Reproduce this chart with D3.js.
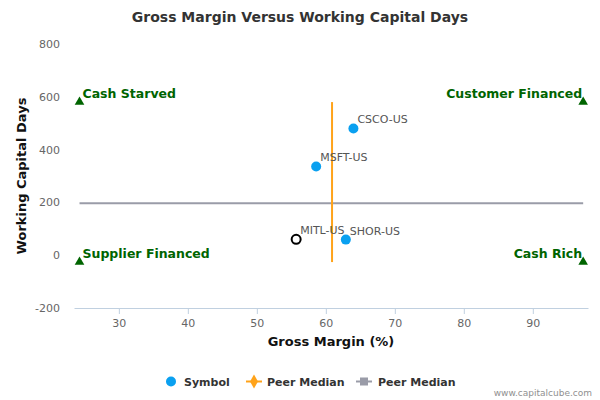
<!DOCTYPE html>
<html>
<head>
<meta charset="utf-8">
<script src="https://cdn.jsdelivr.net/npm/d3@7"></script>
<style>
  body { margin: 0; background: #fff; }
  text { font-family: "DejaVu Sans", sans-serif; }
</style>
</head>
<body>
<div class="chart"></div>
<script>
// company points
var symbols = ["CSCO-US", "MSFT-US", "SHOR-US", "MITL-US"];
var grossMargin = [64.0, 58.6, 62.9, 55.7];
var wcDays = [480, 336, 59, 60];
var isSelf = [false, false, false, true];

// peer medians
var medianMargin = 60.9;
var medianDays = 197;

// quadrant corners
var quadX = [24.3, 97.3];
var quadY = [-26, 580];
var quadLabels = ["Cash Starved", "Customer Financed", "Supplier Financed", "Cash Rich"];

var xTicks = [30, 40, 50, 60, 70, 80, 90];
var yTicks = [-200, 0, 200, 400, 600, 800];
var xExtent = [23.5, 98];
var yExtent = [-200, 800];

var chart_width = 600, chart_height = 400;
var plotLeft = 74, plotRight = 588, plotTop = 44, plotBottom = 308;

var svg = d3.select('.chart')
  .append('svg')
  .attr('width', chart_width)
  .attr('height', chart_height);

var x = d3.scaleLinear().domain(xExtent).range([plotLeft, plotRight]);
var y = d3.scaleLinear().domain(yExtent).range([plotBottom, plotTop]);

// title
svg.append('text')
  .attr('x', 300).attr('y', 22)
  .attr('text-anchor', 'middle')
  .attr('font-size', '14px')
  .attr('font-weight', 'bold')
  .attr('fill', '#333')
  .text('Gross Margin Versus Working Capital Days');

// x axis
var xAxis = svg.append('g')
  .attr('transform', 'translate(0,' + plotBottom + ')')
  .call(d3.axisBottom(x).tickValues(xTicks).tickSize(6).tickPadding(5).tickSizeOuter(0));
xAxis.select('.domain').attr('stroke', '#C0D0E0');
xAxis.selectAll('.tick line').attr('stroke', '#C0D0E0');
xAxis.selectAll('.tick text').attr('fill', '#666').attr('font-size', '11px')
  .attr('font-family', '"DejaVu Sans", sans-serif');

// y axis (labels only, plain hyphen for negatives)
var yAxis = svg.append('g')
  .attr('transform', 'translate(' + (plotLeft - 8) + ',0)')
  .call(d3.axisLeft(y).tickValues(yTicks).tickSize(0).tickPadding(6)
    .tickFormat(function (d) { return String(d); }));
yAxis.select('.domain').remove();
yAxis.selectAll('.tick text').attr('fill', '#666').attr('font-size', '11px')
  .attr('font-family', '"DejaVu Sans", sans-serif');

// axis titles
svg.append('text')
  .attr('x', (plotLeft + plotRight) / 2).attr('y', 346)
  .attr('text-anchor', 'middle')
  .attr('font-size', '13px').attr('font-weight', 'bold').attr('fill', '#111')
  .text('Gross Margin (%)');

svg.append('text')
  .attr('transform', 'translate(26,' + ((plotTop + plotBottom) / 2) + ') rotate(-90)')
  .attr('text-anchor', 'middle')
  .attr('font-size', '13px').attr('font-weight', 'bold').attr('fill', '#111')
  .text('Working Capital Days');

// peer median lines
svg.append('line')
  .attr('x1', x(quadX[0])).attr('x2', x(quadX[1]))
  .attr('y1', y(medianDays)).attr('y2', y(medianDays))
  .attr('stroke', '#9a9ca8').attr('stroke-width', 2);

svg.append('line')
  .attr('x1', x(medianMargin)).attr('x2', x(medianMargin))
  .attr('y1', y(quadY[1])).attr('y2', y(quadY[0]))
  .attr('stroke', '#ffa31a').attr('stroke-width', 2);

// quadrant markers and labels
var corners = [
  {x: quadX[0], y: quadY[1], label: quadLabels[0], anchor: 'start'},
  {x: quadX[1], y: quadY[1], label: quadLabels[1], anchor: 'end'},
  {x: quadX[0], y: quadY[0], label: quadLabels[2], anchor: 'start'},
  {x: quadX[1], y: quadY[0], label: quadLabels[3], anchor: 'end'}
];
var tri = d3.symbol().type(d3.symbolTriangle).size(40);

svg.selectAll('.corner')
  .data(corners)
  .enter()
  .append('path')
  .attr('d', tri)
  .attr('transform', function (d) { return 'translate(' + x(d.x) + ',' + y(d.y) + ')'; })
  .attr('fill', '#006400');

svg.selectAll('.cornerLabel')
  .data(corners)
  .enter()
  .append('text')
  .attr('x', function (d) { return d.anchor == 'start' ? x(d.x) + 3 : x(d.x) - 1; })
  .attr('y', function (d) { return y(d.y) - 4; })
  .attr('text-anchor', function (d) { return d.anchor; })
  .attr('font-size', '12.5px').attr('font-weight', 'bold').attr('fill', '#006400')
  .text(function (d) { return d.label; });

// points
var pts = symbols.map(function (s, i) {
  return {name: s, x: grossMargin[i], y: wcDays[i], self: isSelf[i]};
});

svg.selectAll('.pt')
  .data(pts)
  .enter()
  .append('circle')
  .attr('cx', function (d) { return x(d.x); })
  .attr('cy', function (d) { return y(d.y); })
  .attr('r', function (d) { return d.self ? 4.5 : 5; })
  .attr('fill', function (d) { return d.self ? '#fff' : '#0aa0f0'; })
  .attr('stroke', function (d) { return d.self ? '#000' : 'none'; })
  .attr('stroke-width', 2);

svg.selectAll('.ptLabel')
  .data(pts)
  .enter()
  .append('text')
  .attr('x', function (d) { return x(d.x) + 4; })
  .attr('y', function (d) { return y(d.y) - 5; })
  .attr('font-size', '11px').attr('fill', '#555')
  .text(function (d) { return d.name; });

// legend
var lg = svg.append('g').attr('font-size', '11px').attr('font-weight', 'bold').attr('fill', '#333');
lg.append('circle').attr('cx', 171).attr('cy', 381.5).attr('r', 5).attr('fill', '#0aa0f0');
lg.append('text').attr('x', 184).attr('y', 385.5).text('Symbol');

lg.append('line').attr('x1', 246).attr('x2', 262).attr('y1', 381.5).attr('y2', 381.5)
  .attr('stroke', '#ffa31a').attr('stroke-width', 2);
lg.append('path').attr('d', d3.symbol().type(d3.symbolDiamond).size(55))
  .attr('transform', 'translate(254,381.5)').attr('fill', '#ffa31a');
lg.append('text').attr('x', 267).attr('y', 385.5).text('Peer Median');

lg.append('line').attr('x1', 356).attr('x2', 372).attr('y1', 381.5).attr('y2', 381.5)
  .attr('stroke', '#9a9ca8').attr('stroke-width', 2);
lg.append('rect').attr('x', 360).attr('y', 377.5).attr('width', 8).attr('height', 8)
  .attr('fill', '#9a9ca8');
lg.append('text').attr('x', 378).attr('y', 385.5).text('Peer Median');

// credit
svg.append('text')
  .attr('x', 592).attr('y', 396)
  .attr('text-anchor', 'end')
  .attr('font-size', '9px').attr('fill', '#909090')
  .text('www.capitalcube.com');
</script>
</body>
</html>
